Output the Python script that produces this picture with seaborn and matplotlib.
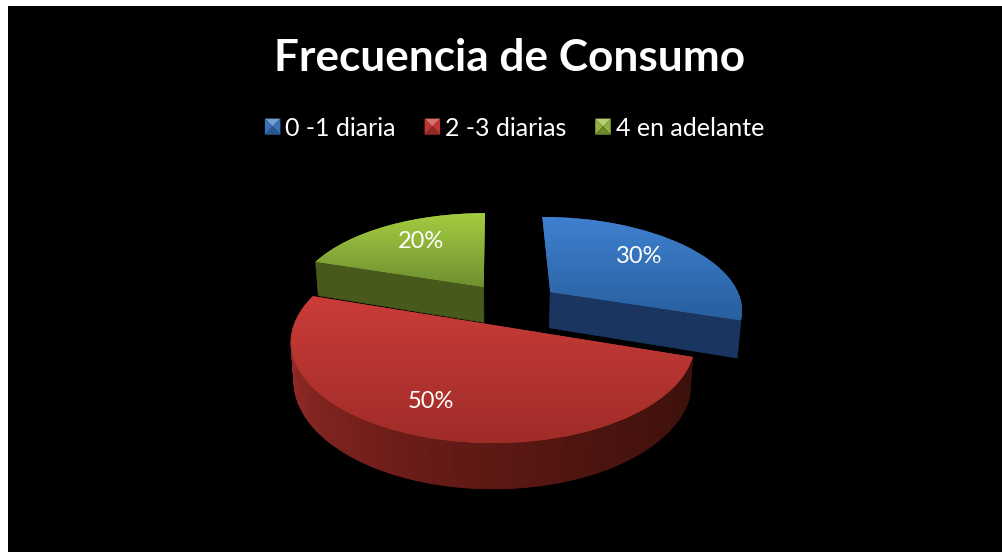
import numpy as np
import matplotlib
matplotlib.use("Agg")
import matplotlib.pyplot as plt
import seaborn as sns
from matplotlib.legend_handler import HandlerPatch
from matplotlib.patches import Polygon
from matplotlib.transforms import Transform, Affine2D

categories = ["0 -1 diaria", "2 -3 diarias", "4 en adelante"]
values = [30, 50, 20]

slice_colors = ["#3a74bb", "#b8332f", "#8fb03c"]
top_shades = [["#3f80cf", "#28609f"], ["#ca3c38", "#a02c28"], ["#a4cc40", "#6f9032"]]
wall_colors = ["#1a3660", None, "#47591b"]
red_wall_shades = ["#3c100c", "#4c1410", "#6a1c18", "#8a2824", "#9a2e2a"]


class Perspective(Transform):
    input_dims = 2
    output_dims = 2

    def __init__(self, cx, cy, a, b, k):
        super().__init__()
        self.cx, self.cy, self.a, self.b, self.k = cx, cy, a, b, k

    def transform_non_affine(self, values):
        values = np.asarray(values, dtype=float)
        w = 1 + self.k * values[:, 1]
        return np.column_stack([self.cx + self.a * values[:, 0] / w, self.cy - self.b * values[:, 1] / w])


class BevelHandler(HandlerPatch):
    # cuadrito biselado de la leyenda, cuatro triangulos
    def create_artists(self, legend, orig_handle, xdescent, ydescent, width, height, fontsize, trans):
        x0, y0 = -xdescent, -ydescent
        x1, y1 = x0 + width, y0 + height
        mid = (x0 + width / 2, y0 + height / 2)
        base = orig_handle.get_facecolor()
        tris = [([(x0, y1), (x1, y1), mid], sns.set_hls_values(base, l=0.64)),
                ([(x0, y0), (x0, y1), mid], sns.set_hls_values(base, l=0.47)),
                ([(x1, y0), (x1, y1), mid], sns.set_hls_values(base, l=0.47)),
                ([(x0, y0), (x1, y0), mid], sns.set_hls_values(base, l=0.36))]
        return [Polygon(pts, closed=True, facecolor=col, edgecolor="none", transform=trans) for pts, col in tris]


persp = Perspective(493, 325, 199, 98, 0.17)
depth = 38
# separacion de cada porcion en el plano del pastel
offsets = [(0.305, 0.357), (0.0, 0.0), (-0.05, 0.416)]
label_nudge = [(-3, -3), (-16, 6), (4, -3)]


def project(x, y, drop=0.0):
    pts = persp.transform(np.column_stack([x, y]))
    w = 1 + persp.k * np.asarray(y)
    pts[:, 0] = persp.cx + (pts[:, 0] - persp.cx) * (1 - 0.015 * (drop > 0))
    pts[:, 1] += drop / w
    return pts


def wall(ax, x0, y0, x1, y1, color, z):
    top = project(np.array([x0, x1]), np.array([y0, y1]))
    low = project(np.array([x0, x1]), np.array([y0, y1]), depth)
    ax.fill(*np.vstack([top, low[::-1]]).T, color=color, lw=0.5, zorder=z)


sns.set_theme(style="white")
plt.rcParams["font.family"] = ["Lato", "DejaVu Sans"]

fig = plt.figure(figsize=(10.02, 5.52), dpi=100, facecolor="white")
ax = fig.add_axes([8 / 1002, 0, 994 / 1002, 546 / 552], facecolor="black")

wedges, _, autotexts = ax.pie(values, startangle=90, counterclock=False, colors=slice_colors,
                              autopct="%d%%", pctdistance=0.67, frame=True,
                              wedgeprops={"linewidth": 0},
                              textprops={"color": "white", "fontsize": 17})

ax.set_aspect("auto")
for i in [2, 0, 1]:
    z = {2: 1, 0: 2, 1: 3}[i]
    wedge = wedges[i]
    ox, oy = offsets[i]
    trans = Affine2D().translate(ox, oy) + persp + ax.transData
    wedge.set_transform(trans)
    wedge.set_zorder(z + 0.2)

    # paredes visibles
    if i == 1:
        thetas = np.radians(np.linspace(wedge.theta2, wedge.theta1, 181))
        cmap = sns.blend_palette(red_wall_shades, n_colors=len(thetas))
        for j in range(len(thetas) - 1):
            tt = thetas[j:j + 2]
            top = project(np.cos(tt) + ox, np.sin(tt) + oy)
            low = project(np.cos(tt) + ox, np.sin(tt) + oy, depth)
            ax.fill(*np.vstack([top, low[::-1]]).T, color=cmap[j], lw=0.6, zorder=z)
    else:
        # el corte que mira al frente: abajo en la azul, a la izquierda en la verde
        cut = np.radians(wedge.theta1 if i == 0 else wedge.theta2)
        wall(ax, ox, oy, np.cos(cut) + ox, np.sin(cut) + oy, wall_colors[i], z)

    # cara superior con degradado
    ext = wedge.get_path().transformed(Affine2D().translate(ox, oy) + persp).get_extents()
    cmap = sns.blend_palette(top_shades[i], as_cmap=True)
    im = ax.imshow(np.linspace(0, 1, 64).reshape(-1, 1), cmap=cmap, aspect="auto", origin="upper",
                   extent=(ext.x0, ext.x1, ext.y1, ext.y0), interpolation="bilinear", zorder=z + 0.5)
    im.set_clip_path(wedge)

    # etiqueta de porcentaje
    tx, ty = autotexts[i].get_position()
    px = persp.transform(np.array([[tx + ox, ty + oy]]))[0]
    autotexts[i].set_position((px[0] + label_nudge[i][0], px[1] + label_nudge[i][1]))
    autotexts[i].set_zorder(10)

ax.set_aspect("auto")
ax.set_xlim(8, 1002)
ax.set_ylim(552, 6)
ax.set_xticks([])
ax.set_yticks([])
sns.despine(ax=ax, left=True, bottom=True)

ax.text(510, 58, "Frecuencia de Consumo", color="white", fontsize=31.8, fontweight="bold",
        ha="center", va="center", zorder=10)
ax.legend(wedges, categories, loc="center", bbox_to_anchor=(514.5, 128), bbox_transform=ax.transData,
          ncol=3, frameon=False, labelcolor="white", fontsize=18, handlelength=0.62, handleheight=0.62,
          handletextpad=0.2, columnspacing=1.15, handler_map={w: BevelHandler() for w in wedges})

fig.savefig("out.png", dpi=100, facecolor=fig.get_facecolor())
